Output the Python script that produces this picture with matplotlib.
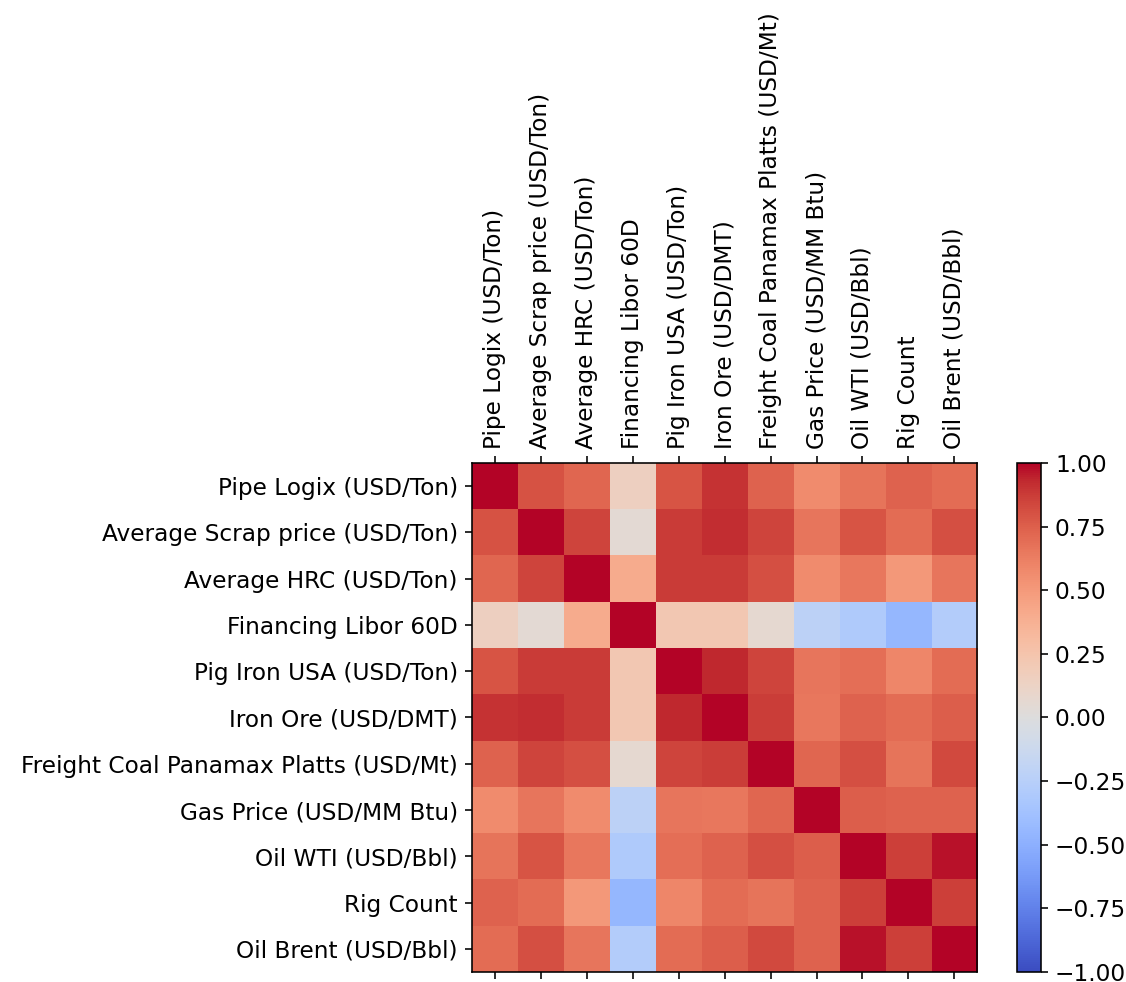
import matplotlib
matplotlib.use('Agg')
import matplotlib.pyplot as plt
import numpy as np

plt.rcParams['font.size'] = 11.6

labels = ['Pipe Logix (USD/Ton)', 'Average Scrap price (USD/Ton)',
          'Average HRC (USD/Ton)', 'Financing Libor 60D',
          'Pig Iron USA (USD/Ton)', 'Iron Ore (USD/DMT)',
          'Freight Coal Panamax Platts (USD/Mt)', 'Gas Price (USD/MM Btu)',
          'Oil WTI (USD/Bbl)', 'Rig Count', 'Oil Brent (USD/Bbl)']

# correlation matrix
corr = np.array([
    [1.00, 0.80, 0.72, 0.15, 0.79, 0.90, 0.74, 0.57, 0.67, 0.74, 0.70],
    [0.80, 1.00, 0.85, 0.05, 0.88, 0.92, 0.85, 0.66, 0.79, 0.70, 0.81],
    [0.72, 0.85, 1.00, 0.40, 0.88, 0.88, 0.81, 0.57, 0.65, 0.50, 0.66],
    [0.15, 0.05, 0.40, 1.00, 0.22, 0.22, 0.07, -0.22, -0.30, -0.45, -0.28],
    [0.79, 0.88, 0.88, 0.22, 1.00, 0.93, 0.85, 0.66, 0.69, 0.59, 0.70],
    [0.90, 0.92, 0.88, 0.22, 0.93, 1.00, 0.87, 0.65, 0.74, 0.70, 0.75],
    [0.74, 0.85, 0.81, 0.07, 0.85, 0.87, 1.00, 0.72, 0.81, 0.67, 0.83],
    [0.57, 0.66, 0.57, -0.22, 0.66, 0.65, 0.72, 1.00, 0.75, 0.74, 0.74],
    [0.67, 0.79, 0.65, -0.30, 0.69, 0.74, 0.81, 0.75, 1.00, 0.86, 0.97],
    [0.74, 0.70, 0.50, -0.45, 0.59, 0.70, 0.67, 0.74, 0.86, 1.00, 0.86],
    [0.70, 0.81, 0.66, -0.28, 0.70, 0.75, 0.83, 0.74, 0.97, 0.86, 1.00],
])

fig = plt.figure(figsize=(1126/144, 982/144), dpi=144)
ax = fig.add_axes([0.419, 0.0102, 0.449, 0.5183])
cax = ax.matshow(corr, cmap='coolwarm', vmin=-1, vmax=1, aspect='auto')
ticks = np.arange(len(labels))
ax.set_xticks(ticks)
ax.set_yticks(ticks)
ax.set_xticklabels(labels, rotation=90)
ax.set_yticklabels(labels)

cbax = fig.add_axes([0.903, 0.0102, 0.0215, 0.5183])
fig.colorbar(cax, cax=cbax, ticks=np.arange(-1, 1.01, 0.25))

fig.savefig('out.png', dpi=144)
